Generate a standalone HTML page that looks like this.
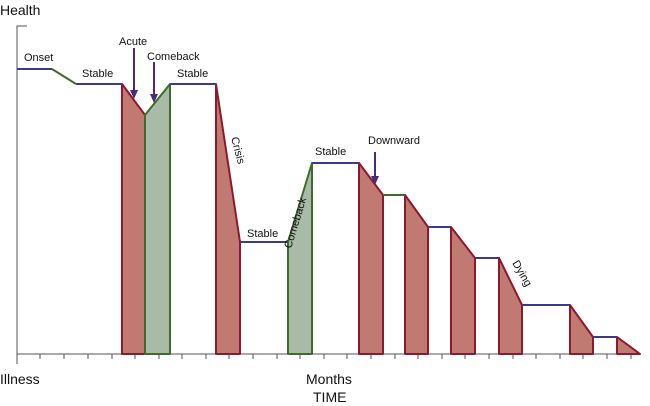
<!DOCTYPE html>
<html><head><style>body{margin:0;background:#fff}svg{display:block}</style></head><body>
<svg width="650" height="406" viewBox="0 0 650 406" xmlns="http://www.w3.org/2000/svg" font-family="Liberation Sans, sans-serif">
<g stroke="#555" stroke-width="1" fill="none">
<path d="M27,26H17V354H640"/>
<path d="M40,354v5M64,354v5M88,354v5M112,354v5M135,354v5M159,354v5M182,354v5M206,354v5M229,354v5M253,354v5M277,354v5M300,354v5M324,354v5M347,354v5M371,354v5M395,354v5M418,354v5M442,354v5M465,354v5M489,354v5M513,354v5M536,354v5M560,354v5M583,354v5M607,354v5M631,354v5M17,354v10"/>
</g>
<g fill="#c07a72" stroke="#8b1a2e" stroke-width="2" stroke-linejoin="round">
<path d="M122,354V84L145,115V354Z"/>
<path d="M216,354V84L240,242V354Z"/>
<path d="M359,354V163L383,195V354Z"/>
<path d="M405,354V195L428,227V354Z"/>
<path d="M451,354V227L475,258V354Z"/>
<path d="M499,354V258L522,305V354Z"/>
<path d="M570,354V305L593,337V354Z"/>
<path d="M617,354V337L640,354Z"/>
</g>
<g fill="#a7bba6" stroke="#3f6b2f" stroke-width="2" stroke-linejoin="round">
<path d="M145,354V115L170,84V354Z"/>
<path d="M288,354V242L312,163V354Z"/>
</g>
<g stroke="#3b3a8f" stroke-width="2">
<path d="M17,69H52M76,84H122M170,84H216M240,242H288M312,163H359M428,227H451M475,258H499M522,305H570M593,337H617"/>
</g>
<g stroke="#3f6b2f" stroke-width="2"><path d="M52,69L76,84M383,195H405"/></g>
<g stroke="#4a2a7a" stroke-width="2" fill="#4a2a7a">
<path d="M134,48V92M154,62V96M375,152V178"/>
<path d="M130,90L134,99L138,90ZM150,94L154,103L158,94ZM371,176L375,185L379,176Z" stroke="none"/>
</g>
<g font-size="11" fill="#111">
<text x="24" y="61">Onset</text>
<text x="82" y="77">Stable</text>
<text x="119" y="45">Acute</text>
<text x="147" y="60">Comeback</text>
<text x="177" y="77">Stable</text>
<text x="247" y="237">Stable</text>
<text x="315" y="155">Stable</text>
<text x="368" y="144">Downward</text>
<text transform="translate(231,138) rotate(75)">Crisis</text>
<text transform="translate(291,249) rotate(-73)">Comeback</text>
<text transform="translate(512,263) rotate(60)">Dying</text>
</g>
<g font-size="14" fill="#111">
<text x="0" y="15">Health</text>
<text x="0" y="384">Illness</text>
<text x="306" y="384">Months</text>
<text x="313" y="402">TIME</text>
</g>
</svg>
</body></html>
